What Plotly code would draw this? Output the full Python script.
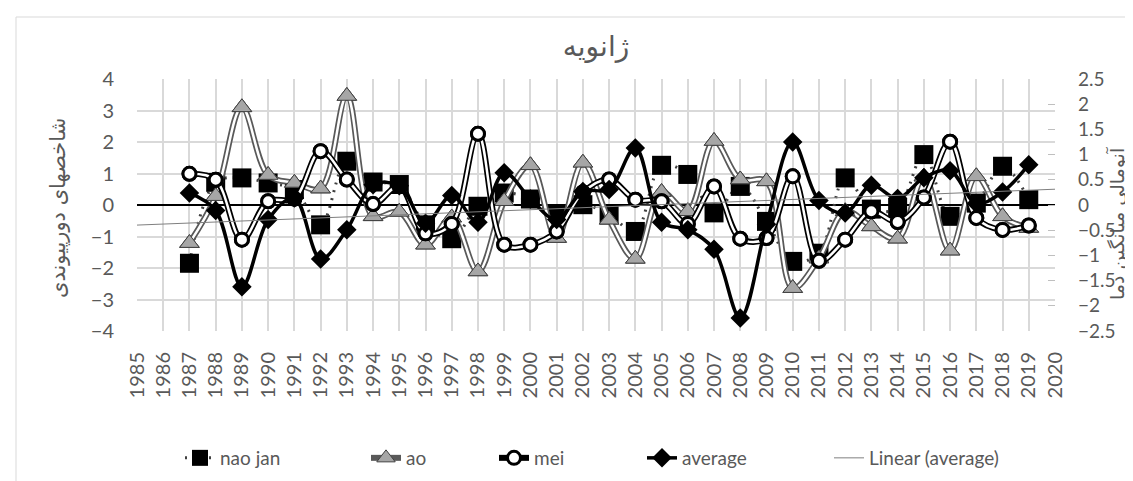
import numpy as np
import plotly.graph_objects as go

years = list(range(1987, 2020))
nao_jan = [-1.85, 0.72, 0.86, 0.70, 0.49, -0.63, 1.39, 0.73, 0.65, -0.63, -1.07, -0.04, 0.38,
           0.19, -0.31, 0.01, -0.31, -0.84, 1.26, 0.97, -0.25, 0.59, -0.52, -1.79, -1.53, 0.86,
           -0.13, -0.10, 1.60, -0.36, 0.06, 1.23, 0.17]
ao = [-1.21, 0.28, 3.10, 0.95, 0.70, 0.52, 3.46, -0.36, -0.22, -1.26, -0.40, -2.11, 0.12,
      1.26, -1.05, 1.34, -0.47, -1.71, 0.41, -0.20, 2.03, 0.81, 0.75, -2.64, -1.70, -0.20,
      -0.68, -1.07, 0.90, -1.45, 0.91, -0.36, -0.73]
mei = [0.99, 0.80, -1.10, 0.12, 0.20, 1.71, 0.81, 0.03, 0.60, -0.90, -0.60, 2.26, -1.26,
       -1.26, -0.84, 0.40, 0.81, 0.17, 0.12, -0.60, 0.59, -1.07, -1.05, 0.91, -1.77, -1.10,
       -0.20, -0.54, 0.24, 2.01, -0.41, -0.79, -0.65]
average = [0.24, -0.11, -1.62, -0.29, 0.14, -1.07, -0.49, 0.40, 0.38, -0.36, 0.19, -0.34, 0.64,
           0.12, -0.29, 0.27, 0.31, 1.13, -0.34, -0.49, -0.88, -2.24, -0.38, 1.25, 0.09, -0.16,
           0.39, 0.13, 0.54, 0.68, 0.03, 0.26, 0.80]
trend_years = [1985, 2020]

title_text = "ژانویه"
left_title = "شاخصهای دورپیوندی"
right_title = "آنومالی میانگین دما"

LAT = "Lato, 'Open Sans', sans-serif"
FA = "'DejaVu Sans', sans-serif"
GRAY = "#595959"

slope, intercept = np.polyfit(years, average, 1)
trend_vals = [slope * x + intercept for x in trend_years]

fig = go.Figure()

# nao jan
fig.add_trace(go.Scatter(
    x=years, y=nao_jan, name="nao jan", mode="lines+markers", legend="legend",
    line=dict(color="#404040", width=3, dash="2px,6px", shape="spline", smoothing=1),
    marker=dict(symbol="square", size=19, color="black"),
))

# ao (double line)
fig.add_trace(go.Scatter(
    x=years, y=ao, name="ao", mode="lines+markers", legend="legend2",
    line=dict(color="#595959", width=6, shape="spline", smoothing=1),
    marker=dict(symbol="triangle-up", size=17, color="#a6a6a6",
                line=dict(color="#404040", width=1)),
))
fig.add_trace(go.Scatter(
    x=years, y=ao, mode="lines", showlegend=False, hoverinfo="skip",
    line=dict(color="white", width=2.5, shape="spline", smoothing=1),
))
fig.add_trace(go.Scatter(
    x=years, y=ao, mode="markers", showlegend=False, hoverinfo="skip",
    marker=dict(symbol="triangle-up", size=17, color="#a6a6a6",
                line=dict(color="#404040", width=1)),
))

# mei (double line)
fig.add_trace(go.Scatter(
    x=years, y=mei, name="mei", mode="lines+markers", legend="legend3",
    line=dict(color="black", width=6, shape="spline", smoothing=1),
    marker=dict(symbol="circle", size=13, color="white", line=dict(color="black", width=3)),
))
fig.add_trace(go.Scatter(
    x=years, y=mei, mode="lines", showlegend=False, hoverinfo="skip",
    line=dict(color="white", width=2.5, shape="spline", smoothing=1),
))
fig.add_trace(go.Scatter(
    x=years, y=mei, mode="markers", showlegend=False, hoverinfo="skip",
    marker=dict(symbol="circle", size=13, color="white", line=dict(color="black", width=3)),
))

# average on secondary axis
fig.add_trace(go.Scatter(
    x=years, y=average, name="average", mode="lines+markers", yaxis="y2", legend="legend4",
    line=dict(color="black", width=3.5, shape="spline", smoothing=1),
    marker=dict(symbol="diamond", size=15, color="black"),
))

# linear trend
fig.add_trace(go.Scatter(
    x=trend_years, y=trend_vals, name="Linear (average)", mode="lines", yaxis="y2",
    legend="legend5", line=dict(color="#7f7f7f", width=1),
))

plot_l, plot_r, plot_t, plot_b = 129, 1047, 71, 323
pw = plot_r - plot_l
ph = plot_b - plot_t
leg_y = (plot_b - 450) / ph


def leg(text_start_px):
    return dict(orientation="h", x=(text_start_px - 44 - plot_l) / pw, xanchor="left",
                y=leg_y, yanchor="middle", bgcolor="rgba(0,0,0,0)",
                font=dict(family=LAT, size=19, color=GRAY))


def px_x(v):
    return (v - plot_l) / pw


def px_y(v):
    return (plot_b - v) / ph


fig.update_layout(
    width=1133, height=481,
    margin=dict(l=plot_l, r=1133 - plot_r, t=plot_t, b=481 - plot_b),
    paper_bgcolor="white", plot_bgcolor="white",
    title=dict(text=title_text, x=px_x(588), xref="paper", xanchor="center",
               y=0.92, yanchor="middle",
               font=dict(family=FA, size=28, color=GRAY)),
    font=dict(family=LAT, size=19, color=GRAY),
    showlegend=True,
    legend=leg(216), legend2=leg(402), legend3=leg(530), legend4=leg(678), legend5=leg(865),
    xaxis=dict(range=[1985, 2020], dtick=1, tick0=1985, tickangle=-90,
               showgrid=True, gridcolor="#d9d9d9", gridwidth=1.5,
               zeroline=False, showline=False,
               ticks="outside", ticklen=12, tickcolor="rgba(0,0,0,0)",
               tickfont=dict(family=LAT, size=20, color=GRAY)),
    yaxis=dict(range=[-4, 4], dtick=1, showgrid=True, gridcolor="#d9d9d9", gridwidth=1.5,
               zeroline=True, zerolinecolor="black", zerolinewidth=2,
               ticks="outside", ticklen=18, tickcolor="rgba(0,0,0,0)",
               tickfont=dict(family=LAT, size=20, color=GRAY)),
    yaxis2=dict(range=[-2.5, 2.5], dtick=0.5, overlaying="y", side="right",
                showgrid=False, zeroline=False, showline=False,
                ticks="inside", ticklen=7, tickcolor="#bfbfbf", ticklabelstandoff=22,
                tickfont=dict(family=LAT, size=19, color=GRAY)),
)

fig.add_annotation(text=left_title, xref="paper", yref="paper", x=px_x(50), y=px_y(200),
                   textangle=-90, showarrow=False, xanchor="center", yanchor="middle",
                   font=dict(family=FA, size=21, color=GRAY))
fig.add_annotation(text=right_title, xref="paper", yref="paper", x=px_x(1109), y=px_y(216),
                   textangle=-90, showarrow=False, xanchor="center", yanchor="middle",
                   font=dict(family=FA, size=19, color=GRAY))

fig.add_shape(type="rect", xref="paper", yref="paper", x0=px_x(8), x1=px_x(1130),
              y0=px_y(476), y1=px_y(9),
              line=dict(color="#d9d9d9", width=1), fillcolor="rgba(0,0,0,0)", layer="below")

fig.write_html("out.html")
